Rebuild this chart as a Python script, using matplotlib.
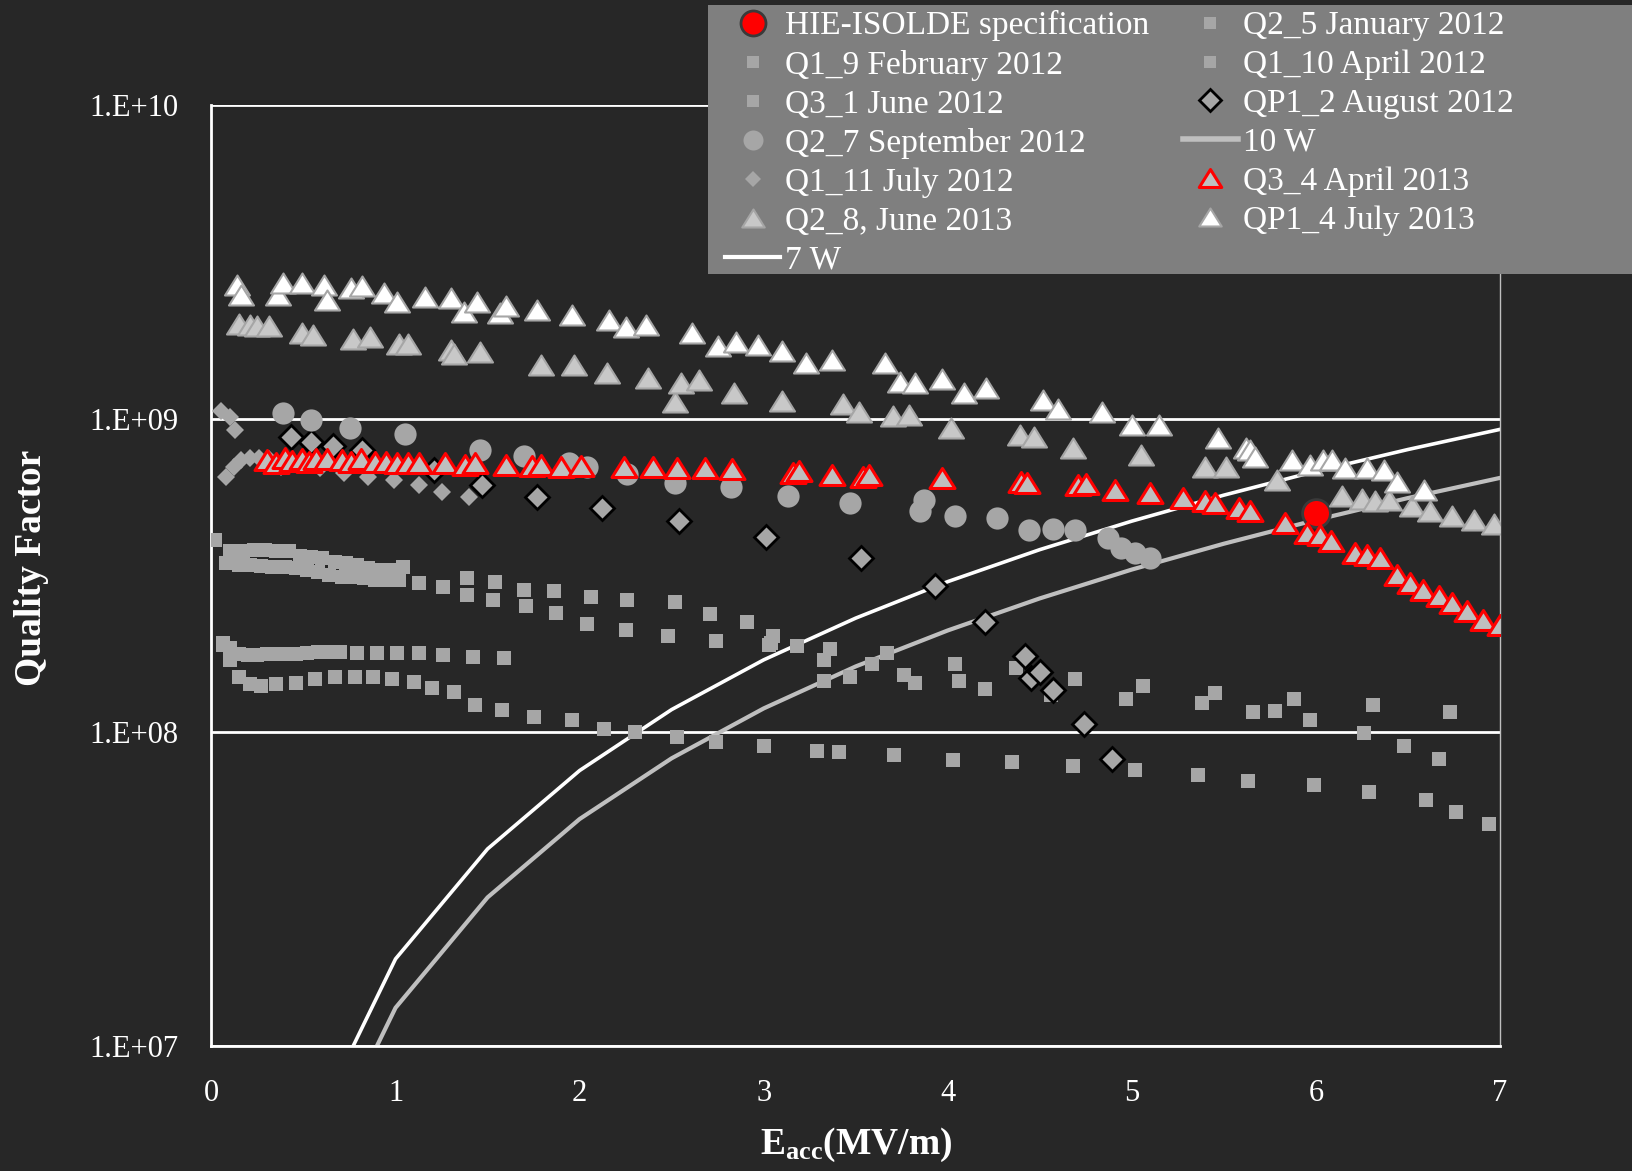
import matplotlib
matplotlib.use("Agg")
import matplotlib.pyplot as plt
from matplotlib.lines import Line2D
from matplotlib.patches import Rectangle
from matplotlib.path import Path
import matplotlib.ticker as mticker

plt.rcParams["font.family"] = ["Liberation Serif", "DejaVu Serif"]
plt.rcParams["mathtext.fontset"] = "custom"
plt.rcParams["mathtext.rm"] = "Liberation Serif"
plt.rcParams["mathtext.bf"] = "Liberation Serif:bold"

# ---- data ----
hie_e = [6.0]
hie_q = [5.0e8]

q2_5_e = [0.02, 0.10, 0.17, 0.23, 0.29, 0.35, 0.42, 0.48, 0.54, 0.60, 0.67, 0.73, 0.79,
          0.85, 0.92, 0.98, 1.04, 1.13, 1.26, 1.39, 1.54, 1.70, 1.86, 2.06, 2.26, 2.52,
          2.71, 2.91, 3.05, 3.36, 3.67, 4.04, 4.37, 4.69, 5.06, 5.45, 5.88, 6.31, 6.73]
q2_5_q = [4.10e8, 3.77e8, 3.79e8, 3.81e8, 3.81e8, 3.79e8, 3.77e8, 3.65e8, 3.61e8, 3.59e8,
          3.50e8, 3.46e8, 3.41e8, 3.33e8, 3.30e8, 3.30e8, 3.37e8, 2.99e8, 2.91e8, 3.10e8,
          3.02e8, 2.84e8, 2.81e8, 2.69e8, 2.63e8, 2.60e8, 2.38e8, 2.25e8, 2.03e8, 1.84e8,
          1.79e8, 1.65e8, 1.60e8, 1.48e8, 1.40e8, 1.33e8, 1.28e8, 1.22e8, 1.16e8]

q1_9_e = [0.08, 0.15, 0.21, 0.27, 0.33, 0.40, 0.46, 0.52, 0.58, 0.64, 0.71, 0.77, 0.83,
          0.89, 0.96, 1.02, 1.39, 1.53, 1.71, 1.87, 2.04, 2.25, 2.48, 2.74, 3.04, 3.03,
          3.18, 3.33, 3.33, 3.47, 3.59, 3.76, 3.82, 4.06, 4.20, 4.56, 4.97, 5.38, 5.66,
          5.78, 5.97, 6.26, 6.48, 6.67]
q1_9_q = [3.46e8, 3.41e8, 3.41e8, 3.39e8, 3.37e8, 3.36e8, 3.33e8, 3.30e8, 3.25e8, 3.18e8,
          3.13e8, 3.12e8, 3.10e8, 3.06e8, 3.05e8, 3.06e8, 2.74e8, 2.63e8, 2.53e8, 2.40e8,
          2.21e8, 2.11e8, 2.02e8, 1.95e8, 1.92e8, 1.90e8, 1.88e8, 1.70e8, 1.46e8, 1.50e8,
          1.65e8, 1.52e8, 1.43e8, 1.46e8, 1.37e8, 1.31e8, 1.28e8, 1.24e8, 1.16e8, 1.17e8,
          1.09e8, 9.95e7, 9.00e7, 8.20e7]

q1_10_e = [0.06, 0.10, 0.15, 0.20, 0.25, 0.30, 0.35, 0.40, 0.46, 0.52, 0.58, 0.64, 0.70,
           0.79, 0.90, 1.01, 1.13, 1.26, 1.42, 1.59]
q1_10_q = [1.90e8, 1.85e8, 1.78e8, 1.76e8, 1.76e8, 1.77e8, 1.77e8, 1.78e8, 1.78e8, 1.79e8,
           1.80e8, 1.80e8, 1.80e8, 1.79e8, 1.79e8, 1.79e8, 1.79e8, 1.76e8, 1.74e8, 1.72e8]

q3_1_e = [0.06, 0.10, 0.15, 0.21, 0.27, 0.35, 0.46, 0.56, 0.67, 0.78, 0.88, 0.98, 1.10,
          1.20, 1.32, 1.43, 1.58, 1.75, 1.96, 2.13, 2.30, 2.53, 2.74, 3.00, 3.29, 3.41,
          3.71, 4.03, 4.35, 4.68, 5.02, 5.36, 5.63, 5.99, 6.29, 6.60, 6.76, 6.94]
q3_1_q = [1.92e8, 1.70e8, 1.50e8, 1.42e8, 1.40e8, 1.42e8, 1.43e8, 1.48e8, 1.50e8, 1.50e8,
          1.50e8, 1.48e8, 1.45e8, 1.38e8, 1.34e8, 1.22e8, 1.18e8, 1.12e8, 1.09e8, 1.02e8,
          1.00e8, 9.68e7, 9.27e7, 9.06e7, 8.73e7, 8.67e7, 8.45e7, 8.15e7, 8.05e7, 7.80e7,
          7.57e7, 7.29e7, 7.00e7, 6.78e7, 6.46e7, 6.08e7, 5.57e7, 5.09e7]

qp1_2_e = [0.43, 0.54, 0.66, 0.82, 1.21, 1.47, 1.77, 2.12, 2.54, 3.01, 3.53, 3.93, 4.20,
           4.42, 4.45, 4.50, 4.57, 4.74, 4.89]
qp1_2_q = [8.77e8, 8.45e8, 8.15e8, 7.94e8, 6.85e8, 6.15e8, 5.64e8, 5.20e8, 4.70e8, 4.19e8,
           3.59e8, 2.93e8, 2.25e8, 1.75e8, 1.49e8, 1.55e8, 1.36e8, 1.06e8, 8.20e7]

q2_7_e = [0.39, 0.54, 0.75, 1.05, 1.46, 1.70, 1.94, 2.04, 2.26, 2.52, 2.82, 3.13, 3.47,
          3.87, 3.85, 4.04, 4.27, 4.44, 4.57, 4.69, 4.87, 4.94, 5.02, 5.10]
q2_7_q = [1.04e9, 9.91e8, 9.31e8, 8.91e8, 7.94e8, 7.60e8, 7.21e8, 7.03e8, 6.67e8, 6.22e8,
          6.03e8, 5.65e8, 5.40e8, 5.51e8, 5.06e8, 4.90e8, 4.82e8, 4.40e8, 4.45e8, 4.40e8,
          4.16e8, 3.86e8, 3.72e8, 3.59e8]

q1_11_e = [0.05, 0.10, 0.13, 0.08, 0.12, 0.16, 0.21, 0.26, 0.31, 0.38, 0.59, 0.72, 0.85,
           0.99, 1.13, 1.25, 1.40]
q1_11_q = [1.06e9, 1.01e9, 9.20e8, 6.53e8, 7.03e8, 7.38e8, 7.48e8, 7.48e8, 7.41e8, 7.03e8,
           6.95e8, 6.70e8, 6.53e8, 6.38e8, 6.15e8, 5.85e8, 5.64e8]

q3_4_e = [0.30, 0.35, 0.40, 0.44, 0.49, 0.53, 0.57, 0.63, 0.71, 0.76, 0.81, 0.89, 0.95,
          1.01, 1.07, 1.13, 1.27, 1.38, 1.43, 1.60, 1.74, 1.79, 1.90, 2.01, 2.24, 2.40,
          2.53, 2.68, 2.83, 3.16, 3.19, 3.37, 3.54, 3.57, 3.97, 4.40, 4.43, 4.71, 4.75,
          4.91, 5.10, 5.28, 5.40, 5.45, 5.58, 5.64, 5.83, 5.95, 6.02, 6.08, 6.21, 6.28,
          6.35, 6.44, 6.51, 6.58, 6.67, 6.74, 6.82, 6.91, 7.00]
q3_4_q = [7.38e8, 7.21e8, 7.48e8, 7.35e8, 7.41e8, 7.29e8, 7.41e8, 7.41e8, 7.38e8, 7.29e8,
          7.41e8, 7.29e8, 7.29e8, 7.24e8, 7.21e8, 7.24e8, 7.21e8, 7.11e8, 7.21e8, 7.11e8,
          7.06e8, 7.11e8, 7.03e8, 7.06e8, 7.00e8, 7.00e8, 6.95e8, 6.95e8, 6.90e8, 6.70e8,
          6.80e8, 6.62e8, 6.53e8, 6.60e8, 6.46e8, 6.30e8, 6.22e8, 6.15e8, 6.20e8, 5.93e8,
          5.78e8, 5.57e8, 5.45e8, 5.37e8, 5.18e8, 5.06e8, 4.65e8, 4.32e8, 4.26e8, 4.06e8,
          3.72e8, 3.68e8, 3.59e8, 3.18e8, 2.99e8, 2.84e8, 2.71e8, 2.58e8, 2.43e8, 2.28e8,
          2.20e8]

q2_8_e = [0.15, 0.21, 0.25, 0.31, 0.49, 0.55, 0.77, 0.86, 1.02, 1.07, 1.30, 1.32, 1.46,
          1.79, 1.97, 2.15, 2.37, 2.52, 2.55, 2.65, 2.84, 3.10, 3.43, 3.52, 3.70, 3.79,
          4.02, 4.39, 4.47, 4.68, 5.05, 5.40, 5.51, 5.79, 6.14, 6.25, 6.32, 6.40, 6.52,
          6.62, 6.74, 6.86, 6.97]
q2_8_q = [2.01e9, 1.99e9, 1.98e9, 1.97e9, 1.88e9, 1.85e9, 1.80e9, 1.82e9, 1.73e9, 1.73e9,
          1.66e9, 1.61e9, 1.63e9, 1.48e9, 1.48e9, 1.40e9, 1.35e9, 1.13e9, 1.30e9, 1.33e9,
          1.21e9, 1.14e9, 1.11e9, 1.05e9, 1.02e9, 1.03e9, 9.33e8, 8.87e8, 8.77e8, 8.05e8,
          7.67e8, 7.03e8, 7.03e8, 6.38e8, 5.65e8, 5.55e8, 5.45e8, 5.51e8, 5.25e8, 5.06e8,
          4.88e8, 4.75e8, 4.61e8]

qp1_4_e = [0.14, 0.16, 0.36, 0.39, 0.49, 0.61, 0.63, 0.76, 0.82, 0.94, 1.01, 1.16, 1.30,
           1.37, 1.44, 1.57, 1.60, 1.77, 1.96, 2.16, 2.25, 2.36, 2.61, 2.75, 2.85, 2.97,
           3.10, 3.23, 3.37, 3.66, 3.74, 3.82, 3.97, 4.09, 4.21, 4.52, 4.60, 4.84, 5.00,
           5.15, 5.47, 5.62, 5.64, 5.67, 5.87, 5.97, 6.04, 6.09, 6.16, 6.28, 6.37, 6.44,
           6.59]
qp1_4_q = [2.67e9, 2.48e9, 2.48e9, 2.70e9, 2.70e9, 2.67e9, 2.39e9, 2.61e9, 2.64e9, 2.51e9,
           2.36e9, 2.45e9, 2.42e9, 2.19e9, 2.36e9, 2.17e9, 2.28e9, 2.22e9, 2.14e9, 2.07e9,
           1.96e9, 1.99e9, 1.87e9, 1.70e9, 1.76e9, 1.72e9, 1.64e9, 1.50e9, 1.54e9, 1.50e9,
           1.31e9, 1.30e9, 1.34e9, 1.21e9, 1.25e9, 1.15e9, 1.07e9, 1.05e9, 9.55e8, 9.55e8,
           8.67e8, 8.05e8, 7.94e8, 7.57e8, 7.40e8, 7.13e8, 7.40e8, 7.40e8, 6.95e8, 6.95e8,
           6.87e8, 6.30e8, 5.93e8]

line_e = [0.5, 1.0, 1.5, 2.0, 2.5, 3.0, 3.5, 4.0, 4.5, 5.0, 5.5, 6.0, 6.5, 7.0]
q_7w = [4.71e6, 1.89e7, 4.24e7, 7.54e7, 1.18e8, 1.70e8, 2.31e8, 3.02e8, 3.82e8, 4.71e8,
        5.70e8, 6.79e8, 7.97e8, 9.24e8]
q_10w = [3.30e6, 1.32e7, 2.97e7, 5.28e7, 8.25e7, 1.19e8, 1.62e8, 2.11e8, 2.67e8, 3.30e8,
         3.99e8, 4.75e8, 5.58e8, 6.47e8]

y_ticks = [1e7, 1e8, 1e9, 1e10]
y_labels = ["1.E+07", "1.E+08", "1.E+09", "1.E+10"]

# ---- style ----
BG = "#272727"
GRAY = "#a6a6a6"
tri = Path([(0, 0.8), (-1, -0.8), (1, -0.8), (0, 0.8)],
           [Path.MOVETO, Path.LINETO, Path.LINETO, Path.CLOSEPOLY])

fig = plt.figure(figsize=(16.33, 11.71), dpi=100, facecolor=BG)
ax = fig.add_axes([0.1295, 0.1071, 0.789, 0.8031])
ax.set_facecolor(BG)

ax.plot(line_e, q_10w, color="#bfbfbf", lw=3, zorder=2, label="10 W")
ax.plot(line_e, q_7w, color="white", lw=2.6, zorder=2, label="7 W")

sq = dict(ls="none", marker="s", ms=10, mfc=GRAY, mec=GRAY, mew=0)
h_hie, = ax.plot(hie_e, hie_q, ls="none", marker="o", ms=20, mfc="#ff0000",
                 mec="#3a3a3a", mew=2, zorder=3, label="HIE-ISOLDE specification")
h25, = ax.plot(q2_5_e, q2_5_q, zorder=3, label="Q2_5 January 2012", **sq)
h19, = ax.plot(q1_9_e, q1_9_q, zorder=3, label="Q1_9 February 2012", **sq)
h110, = ax.plot(q1_10_e, q1_10_q, zorder=3, label="Q1_10 April 2012", **sq)
h31, = ax.plot(q3_1_e, q3_1_q, zorder=3, label="Q3_1 June 2012", **sq)
hqp12, = ax.plot(qp1_2_e, qp1_2_q, ls="none", marker="D", ms=12.5, mfc=GRAY,
                 mec="black", mew=2, zorder=3, label="QP1_2 August 2012")
h27, = ax.plot(q2_7_e, q2_7_q, ls="none", marker="o", ms=16, mfc=GRAY, mec=GRAY,
               mew=0, zorder=3, label="Q2_7 September 2012")
h111, = ax.plot(q1_11_e, q1_11_q, ls="none", marker="D", ms=9, mfc=GRAY, mec=GRAY,
                mew=0, zorder=3, label="Q1_11 July 2012")
h34, = ax.plot(q3_4_e, q3_4_q, ls="none", marker=tri, ms=18, mfc="#bfbfbf",
               mec="#ff0000", mew=2.2, zorder=4, label="Q3_4 April 2013")
h28, = ax.plot(q2_8_e, q2_8_q, ls="none", marker=tri, ms=18, mfc="#c8c8c8",
               mec="#a6a6a6", mew=1.5, zorder=4, label="Q2_8, June 2013")
hqp14, = ax.plot(qp1_4_e, qp1_4_q, ls="none", marker=tri, ms=18, mfc="white",
                 mec="#a6a6a6", mew=1.5, zorder=4, label="QP1_4 July 2013")

ax.set_yscale("log")
ax.set_xlim(0, 7)
ax.set_ylim(1e7, 1e10)
ax.yaxis.set_major_locator(mticker.FixedLocator(y_ticks))
ax.yaxis.set_minor_locator(mticker.NullLocator())
ax.set_yticklabels(y_labels)
ax.set_xticks(range(0, 8))
ax.grid(axis="y", color="white", lw=2, zorder=1)
ax.tick_params(axis="both", length=0, colors="white", labelsize=22)
ax.tick_params(axis="x", pad=24)
ax.tick_params(axis="y", pad=24)
for s in ["left", "bottom"]:
    ax.spines[s].set_color("white")
    ax.spines[s].set_linewidth(2)
ax.spines["top"].set_visible(False)
ax.spines["right"].set_color("#bfbfbf")
ax.spines["right"].set_linewidth(1)

ax.set_ylabel("Quality Factor", color="white", fontsize=27, fontweight="bold")
ax.yaxis.set_label_coords(-0.126, 0.508)
ax.set_xlabel(r"$\mathbf{E_{acc}}$(MV/m)", color="white", fontsize=27,
              fontweight="bold")
ax.xaxis.set_label_coords(0.5, -0.085)

# legend box
fig.patches.append(Rectangle((708 / 1633, 1 - 274 / 1171), 1 - 708 / 1633,
                             269 / 1171, transform=fig.transFigure,
                             facecolor="#7f7f7f", edgecolor="none", zorder=5))
h7 = Line2D([], [], color="white", lw=3)
h10 = Line2D([], [], color="#bfbfbf", lw=4)
handles = [h_hie, h19, h31, h27, h111, h28, h7,
           h25, h110, hqp12, h10, h34, hqp14]
labels = ["HIE-ISOLDE specification", "Q1_9 February 2012", "Q3_1 June 2012",
          "Q2_7 September 2012", "Q1_11 July 2012", "Q2_8, June 2013", "7 W",
          "Q2_5 January 2012", "Q1_10 April 2012", "QP1_2 August 2012", "10 W",
          "Q3_4 April 2013", "QP1_4 July 2013"]
leg = fig.legend(handles, labels, ncol=2, loc="upper left",
                 bbox_to_anchor=(722 / 1633, 1 - 7 / 1171), frameon=False,
                 fontsize=24, handlelength=1.65, handletextpad=0.15,
                 columnspacing=1.0, labelspacing=0.25, markerscale=0.9,
                 borderpad=0.1, borderaxespad=0)
leg.set_zorder(6)
for t in leg.get_texts():
    t.set_color("white")

fig.savefig("out.png", dpi=100, facecolor=BG)
